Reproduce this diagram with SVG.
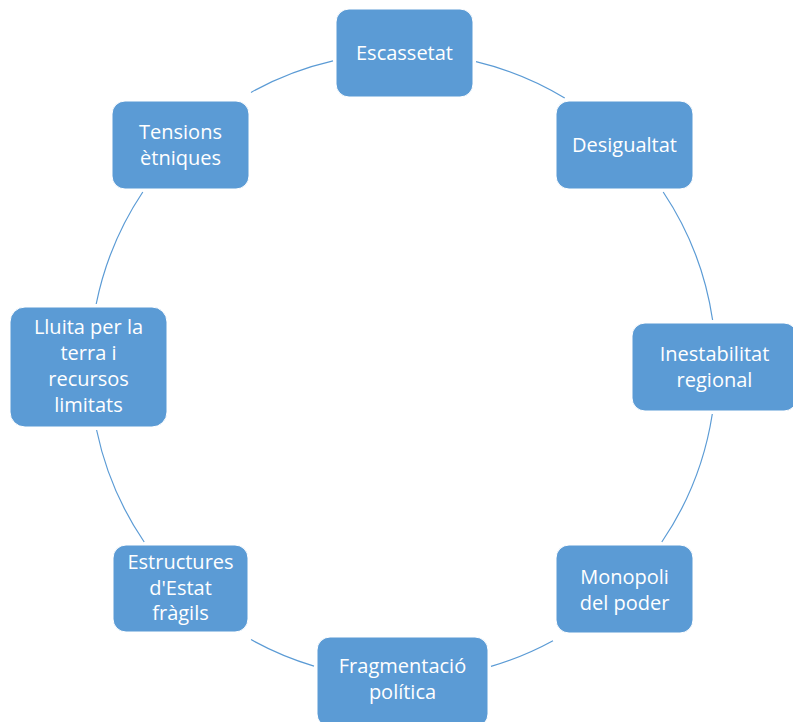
<svg xmlns="http://www.w3.org/2000/svg" width="793" height="722" viewBox="0 0 793 722">
<style>
.box{fill:#5B9BD5;stroke:#FFFFFF;stroke-width:1}
.lbl{font-family:"Open Sans","Liberation Sans",sans-serif;font-size:20px;fill:#FFFFFF;text-anchor:middle}
.arc{fill:none;stroke:#5B9BD5;stroke-width:1.2}
</style>
<rect width="793" height="722" fill="#FFFFFF"/>
<g id="connectors">
<path class="arc" d="M476,61.6 A313,313 0 0 1 564.7,98"/>
<path class="arc" d="M663.2,192 A313,313 0 0 1 712.6,320"/>
<path class="arc" d="M712.3,414 A313,313 0 0 1 661.8,542"/>
<path class="arc" d="M553,640.7 A313,313 0 0 1 491,666.4"/>
<path class="arc" d="M314,666.1 A313,313 0 0 1 251,639.6"/>
<path class="arc" d="M144.2,542 A313,313 0 0 1 96.6,430"/>
<path class="arc" d="M96.2,304 A313,313 0 0 1 142.8,192"/>
<path class="arc" d="M251,92.4 A313,313 0 0 1 333,60.9"/>
</g>
<g id="n-escassetat">
<rect class="box" x="336" y="9" width="137" height="88" rx="13"/>
<text class="lbl" x="404.5" y="60">Escassetat</text>
</g>
<g id="n-desigualtat">
<rect class="box" x="556" y="101" width="137" height="88" rx="13"/>
<text class="lbl" x="624.5" y="152">Desigualtat</text>
</g>
<g id="n-inestabilitat">
<rect class="box" x="632" y="323" width="165" height="88" rx="13"/>
<text class="lbl" x="714.5" y="361">Inestabilitat</text>
<text class="lbl" x="714.5" y="386.5">regional</text>
</g>
<g id="n-monopoli">
<rect class="box" x="556" y="545" width="137" height="88" rx="13"/>
<text class="lbl" x="624.5" y="584">Monopoli</text>
<text class="lbl" x="624.5" y="609.5">del poder</text>
</g>
<g id="n-fragmentacio">
<rect class="box" x="317" y="637" width="171" height="90" rx="13"/>
<text class="lbl" x="402.5" y="673">Fragmentació</text>
<text class="lbl" x="402.5" y="699">política</text>
</g>
<g id="n-estructures">
<rect class="box" x="113" y="545" width="135" height="87" rx="13"/>
<text class="lbl" x="180.5" y="569">Estructures</text>
<text class="lbl" x="180.5" y="594.5">d'Estat</text>
<text class="lbl" x="180.5" y="620">fràgils</text>
</g>
<g id="n-lluita">
<rect class="box" x="10" y="307" width="157" height="120" rx="15"/>
<text class="lbl" x="88.5" y="334">Lluita per la</text>
<text class="lbl" x="88.5" y="360">terra i</text>
<text class="lbl" x="88.5" y="386">recursos</text>
<text class="lbl" x="88.5" y="412">limitats</text>
</g>
<g id="n-tensions">
<rect class="box" x="112" y="101" width="137" height="88" rx="13"/>
<text class="lbl" x="180.5" y="139">Tensions</text>
<text class="lbl" x="180.5" y="164.5">ètniques</text>
</g>
</svg>
